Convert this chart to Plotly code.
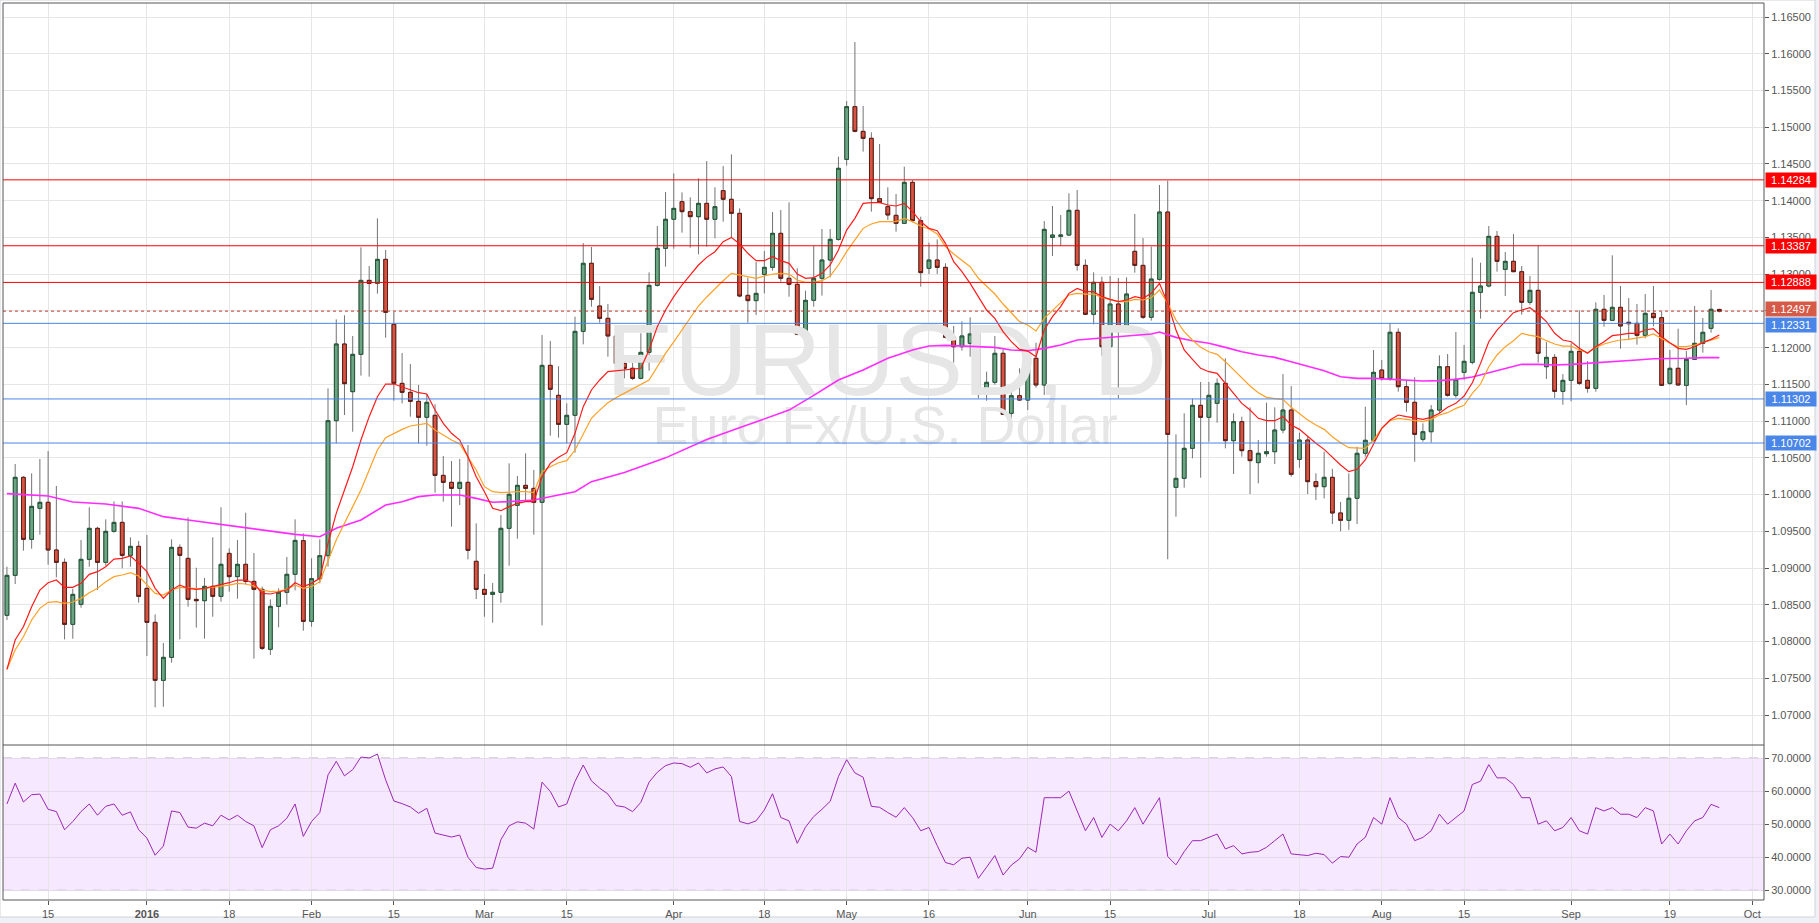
import pandas as pd
import plotly.graph_objects as go

# ---------------- data ----------------
dates = [d.strftime("%Y-%m-%d") for d in pd.bdate_range("2015-12-08", "2016-09-27")
         if d.strftime("%m-%d") not in ("12-25", "01-01")]

opens = [
1.08357, 1.08901, 1.10235, 1.09391, 1.09813, 1.09895, 1.09246, 1.09078, 1.08234, 1.08506,
1.09119, 1.09541, 1.09078, 1.09500, 1.09622, 1.09173, 1.09296, 1.08724, 1.08261, 1.07472,
1.07785, 1.09282, 1.09132, 1.08574, 1.08556, 1.08751, 1.08615, 1.09200, 1.08883, 1.09051,
1.08819, 1.08710, 1.07894, 1.08479, 1.08670, 1.08915, 1.09373, 1.08275, 1.08856, 1.09169,
1.11006, 1.12050, 1.11401, 1.11909, 1.12916, 1.12875, 1.13202, 1.12317, 1.11514, 1.11392,
1.11269, 1.11052, 1.11079, 1.10262, 1.10167, 1.10085, 1.10167, 1.09092, 1.08710, 1.08642,
1.08670, 1.09541, 1.09854, 1.10126, 1.10085, 1.09895, 1.11759, 1.11351, 1.10956, 1.11079,
1.12222, 1.13148, 1.12567, 1.12399, 1.12159, 1.11787, 1.11719, 1.11582, 1.11936, 1.12848,
1.13352, 1.13747, 1.13987, 1.13851, 1.13783, 1.13964, 1.13747, 1.14137, 1.14019, 1.13828,
1.12712, 1.12640, 1.12998, 1.13093, 1.13556, 1.12944, 1.12862, 1.12159, 1.12644, 1.12944,
1.13193, 1.13474, 1.14563, 1.15280, 1.14944, 1.14849, 1.14028, 1.13919, 1.13801, 1.13692,
1.14250, 1.13728, 1.13080, 1.13193, 1.13093, 1.12140, 1.12013, 1.12059, 1.12186, 1.11378,
1.11528, 1.11923, 1.11106, 1.11346, 1.11287, 1.11855, 1.11492, 1.13501, 1.13515, 1.13533,
1.13869, 1.13120, 1.12454, 1.12889, 1.12013, 1.12594, 1.12218, 1.13311, 1.13120, 1.12413,
1.12930, 1.13846, 1.10099, 1.10221, 1.10630, 1.11215, 1.11052, 1.11242, 1.11514, 1.10734,
1.10993, 1.10598, 1.10435, 1.10557, 1.10584, 1.10879, 1.11151, 1.10480, 1.10743, 1.10176,
1.10108, 1.10235, 1.09750, 1.09650, 1.09950, 1.10562, 1.10739, 1.11696, 1.11578, 1.12209,
1.11469, 1.11256, 1.10752, 1.10856, 1.11151, 1.11741, 1.11351, 1.11664, 1.11800, 1.12753,
1.12839, 1.13515, 1.13066, 1.13175, 1.13034, 1.12617, 1.12780, 1.11741, 1.11868, 1.11405,
1.11555, 1.11950, 1.11555, 1.11446, 1.12522, 1.12372, 1.12549, 1.12345, 1.12331, 1.12168,
1.12467, 1.12408, 1.11514, 1.11719, 1.11487, 1.11841, 1.12059, 1.12263, 1.12520]

highs = [
1.09019, 1.10416, 1.10250, 1.10289, 1.10484, 1.10593, 1.10117, 1.09132, 1.08720, 1.09382,
1.09827, 1.09563, 1.09663, 1.09908, 1.09908, 1.09418, 1.09368, 1.09450, 1.08370, 1.07980,
1.09391, 1.09323, 1.09690, 1.09005, 1.08865, 1.09418, 1.09827, 1.09269, 1.09382, 1.09754,
1.09205, 1.08747, 1.08574, 1.08724, 1.09151, 1.09663, 1.09473, 1.09132, 1.09391, 1.11446,
1.12385, 1.12440, 1.12159, 1.13365, 1.13111, 1.13760, 1.13329, 1.12490, 1.11927, 1.11777,
1.11492, 1.11369, 1.11229, 1.10525, 1.10457, 1.10484, 1.10675, 1.09609, 1.08919, 1.08797,
1.09722, 1.10425, 1.10253, 1.10562, 1.10335, 1.12172, 1.12091, 1.11746, 1.11242, 1.12422,
1.13424, 1.13370, 1.12839, 1.12594, 1.12227, 1.11868, 1.11796, 1.12195, 1.13025, 1.13656,
1.14119, 1.14373, 1.14114, 1.14046, 1.14305, 1.14540, 1.14182, 1.14472, 1.14631, 1.13896,
1.12953, 1.13166, 1.13316, 1.13846, 1.13874, 1.13978, 1.13080, 1.12776, 1.13384, 1.13615,
1.13615, 1.14600, 1.15357, 1.16160, 1.15289, 1.14931, 1.14772, 1.14182, 1.14091, 1.14463,
1.14282, 1.13783, 1.13429, 1.13474, 1.13148, 1.12295, 1.12358, 1.12413, 1.12263, 1.11673,
1.12159, 1.11977, 1.11437, 1.11719, 1.11982, 1.12068, 1.13724, 1.13928, 1.13806, 1.14100,
1.14146, 1.13202, 1.13025, 1.12966, 1.12975, 1.12948, 1.12957, 1.13819, 1.13492, 1.13375,
1.14214, 1.14273, 1.10820, 1.11106, 1.11306, 1.11533, 1.11533, 1.11582, 1.11855, 1.11106,
1.11061, 1.11188, 1.10743, 1.11251, 1.11188, 1.11641, 1.11478, 1.10843, 1.10788, 1.10289,
1.10584, 1.10350, 1.09900, 1.10289, 1.10652, 1.11197, 1.11968, 1.11832, 1.12331, 1.12263,
1.11560, 1.11596, 1.10970, 1.11219, 1.11895, 1.11913, 1.12213, 1.12036, 1.13225, 1.13157,
1.13656, 1.13588, 1.13302, 1.13547, 1.13111, 1.12975, 1.13393, 1.12077, 1.11913, 1.11641,
1.12059, 1.12508, 1.11818, 1.12617, 1.12717, 1.13257, 1.12839, 1.12676, 1.12594, 1.12730,
1.12839, 1.12490, 1.11968, 1.12258, 1.11954, 1.12567, 1.12404, 1.12785, 1.12530]

lows = [
1.08293, 1.08783, 1.09237, 1.09264, 1.09455, 1.09046, 1.08874, 1.08030, 1.08039, 1.08461,
1.09019, 1.08701, 1.09033, 1.09482, 1.08996, 1.09019, 1.08529, 1.07803, 1.07104, 1.07113,
1.07712, 1.08030, 1.08475, 1.08189, 1.08039, 1.08338, 1.08543, 1.08679, 1.08583, 1.08774,
1.07767, 1.07885, 1.07817, 1.08193, 1.08502, 1.08697, 1.08148, 1.08202, 1.08792, 1.09019,
1.10698, 1.11083, 1.10856, 1.11619, 1.11605, 1.12735, 1.12136, 1.11278, 1.11242, 1.11061,
1.10698, 1.10666, 1.10026, 1.09904, 1.09563, 1.09858, 1.09119, 1.08579, 1.08338, 1.08257,
1.08529, 1.09033, 1.09400, 1.09926, 1.09455, 1.08220, 1.10802, 1.10775, 1.10698, 1.10571,
1.12045, 1.12558, 1.12340, 1.11877, 1.11596, 1.11582, 1.11560, 1.11569, 1.11687, 1.12830,
1.13102, 1.13347, 1.13565, 1.13361, 1.13270, 1.13375, 1.13488, 1.13715, 1.13488, 1.12685,
1.12340, 1.12444, 1.12739, 1.13048, 1.12898, 1.12694, 1.12168, 1.12159, 1.12558, 1.12708,
1.12957, 1.13456, 1.14477, 1.14930, 1.14668, 1.13851, 1.13973, 1.13738, 1.13579, 1.13683,
1.13706, 1.12830, 1.13002, 1.13002, 1.12127, 1.11796, 1.11959, 1.11877, 1.11310, 1.11278,
1.11496, 1.11083, 1.10979, 1.11278, 1.11151, 1.11455, 1.11356, 1.13248, 1.13384, 1.13524,
1.13048, 1.12454, 1.12317, 1.11891, 1.12013, 1.11310, 1.12218, 1.13021, 1.12390, 1.12368,
1.12912, 1.09120, 1.09700, 1.10094, 1.10494, 1.10230, 1.10720, 1.10979, 1.10630, 1.10280,
1.10516, 1.10008, 1.10153, 1.10516, 1.10416, 1.10834, 1.10244, 1.10366, 1.10008, 1.09926,
1.09949, 1.09600, 1.09500, 1.09520, 1.09600, 1.10516, 1.10720, 1.11551, 1.11551, 1.11401,
1.11129, 1.10448, 1.10720, 1.10707, 1.11106, 1.11333, 1.11319, 1.11560, 1.11773, 1.12395,
1.12821, 1.13034, 1.12703, 1.13034, 1.12449, 1.12585, 1.11796, 1.11573, 1.11315, 1.11224,
1.11269, 1.11492, 1.11387, 1.11401, 1.12286, 1.12367, 1.11986, 1.12104, 1.12041, 1.12127,
1.12290, 1.11487, 1.11492, 1.11483, 1.11219, 1.11841, 1.11932, 1.12204, 1.12480]

closes = [
1.08901, 1.10235, 1.09391, 1.09840, 1.09895, 1.09246, 1.09078, 1.08234, 1.08642, 1.09119,
1.09541, 1.09078, 1.09500, 1.09622, 1.09173, 1.09296, 1.08615, 1.08261, 1.07472, 1.07785,
1.09282, 1.09173, 1.08574, 1.08556, 1.08751, 1.08615, 1.09051, 1.08883, 1.09051, 1.08819,
1.08710, 1.07907, 1.08479, 1.08670, 1.08915, 1.09377, 1.08275, 1.08856, 1.09169, 1.11006,
1.12050, 1.11510, 1.11909, 1.12916, 1.12875, 1.13202, 1.12481, 1.11514, 1.11392, 1.11269,
1.11052, 1.11256, 1.10262, 1.10167, 1.10085, 1.10167, 1.09241, 1.08710, 1.08642, 1.08670,
1.09541, 1.10004, 1.10126, 1.10085, 1.09895, 1.11759, 1.11433, 1.10956, 1.11079, 1.12222,
1.13148, 1.12658, 1.12399, 1.12159, 1.11787, 1.11719, 1.11582, 1.11936, 1.12848, 1.13352,
1.13747, 1.13896, 1.13851, 1.13783, 1.13964, 1.13747, 1.13919, 1.14019, 1.13828, 1.12703,
1.12640, 1.12739, 1.13093, 1.13556, 1.12944, 1.12862, 1.12181, 1.12644, 1.12944, 1.13193,
1.13474, 1.14441, 1.15280, 1.14944, 1.14849, 1.14028, 1.13978, 1.13806, 1.13692, 1.14250,
1.13728, 1.13021, 1.13193, 1.13093, 1.12140, 1.12013, 1.12159, 1.12186, 1.11378, 1.11528,
1.11923, 1.11092, 1.11346, 1.11287, 1.11855, 1.11492, 1.13610, 1.13533, 1.13533, 1.13869,
1.13120, 1.12454, 1.12889, 1.12013, 1.12594, 1.12218, 1.12730, 1.13120, 1.12413, 1.12934,
1.13846, 1.10820, 1.10221, 1.10630, 1.11215, 1.11052, 1.11351, 1.11514, 1.10734, 1.10993,
1.10598, 1.10462, 1.10562, 1.10584, 1.10879, 1.11151, 1.10276, 1.10743, 1.10176, 1.10108,
1.10235, 1.09750, 1.09650, 1.09950, 1.10562, 1.10739, 1.11664, 1.11578, 1.12209, 1.11469,
1.11256, 1.10820, 1.10856, 1.11151, 1.11741, 1.11351, 1.11569, 1.11814, 1.12753, 1.12839,
1.13515, 1.13175, 1.13175, 1.13034, 1.12617, 1.12780, 1.11923, 1.11868, 1.11405, 1.11555,
1.11950, 1.11514, 1.11446, 1.12522, 1.12372, 1.12549, 1.12295, 1.12326, 1.12168, 1.12467,
1.12408, 1.11487, 1.11719, 1.11492, 1.11841, 1.12059, 1.12209, 1.12522, 1.12497]

ema_fast = [
1.07622, 1.08021, 1.08202, 1.08475, 1.08701, 1.08801, 1.08837, 1.08738, 1.08738, 1.08792,
1.08915, 1.08951, 1.09019, 1.09123, 1.09132, 1.09164, 1.09064, 1.08951, 1.08724, 1.08588,
1.08701, 1.08769, 1.08724, 1.08710, 1.08724, 1.08747, 1.08769, 1.08801, 1.08837, 1.08837,
1.08792, 1.08656, 1.08647, 1.08670, 1.08701, 1.08801, 1.08747, 1.08792, 1.08860, 1.09337,
1.09745, 1.10062, 1.10380, 1.10743, 1.11061, 1.11333, 1.11505, 1.11505, 1.11469, 1.11424,
1.11387, 1.11369, 1.11151, 1.10970, 1.10834, 1.10743, 1.10516, 1.10244, 1.10040, 1.09813,
1.09781, 1.09836, 1.09881, 1.09904, 1.09904, 1.10244, 1.10425, 1.10507, 1.10571, 1.10834,
1.11197, 1.11424, 1.11560, 1.11673, 1.11687, 1.11696, 1.11705, 1.11719, 1.11968, 1.12286,
1.12512, 1.12694, 1.12853, 1.12989, 1.13125, 1.13229, 1.13306, 1.13442, 1.13501, 1.13411,
1.13284, 1.13184, 1.13184, 1.13238, 1.13184, 1.13148, 1.13002, 1.12944, 1.12953, 1.13011,
1.13125, 1.13329, 1.13601, 1.13760, 1.13964, 1.13973, 1.13973, 1.13942, 1.13928, 1.13964,
1.13851, 1.13715, 1.13624, 1.13592, 1.13420, 1.13170, 1.13034, 1.12875, 1.12694, 1.12512,
1.12399, 1.12218, 1.12081, 1.11977, 1.11954, 1.11877, 1.12240, 1.12422, 1.12558, 1.12739,
1.12807, 1.12762, 1.12762, 1.12694, 1.12658, 1.12626, 1.12649, 1.12694, 1.12671, 1.12739,
1.12875, 1.12603, 1.12240, 1.11968, 1.11841, 1.11719, 1.11673, 1.11650, 1.11514, 1.11378,
1.11242, 1.11151, 1.11038, 1.11006, 1.11006, 1.11061, 1.10947, 1.10888, 1.10788, 1.10698,
1.10616, 1.10507, 1.10403, 1.10312, 1.10344, 1.10471, 1.10698, 1.10902, 1.11015, 1.11083,
1.11061, 1.11038, 1.11024, 1.11052, 1.11106, 1.11188, 1.11242, 1.11342, 1.11523, 1.11786,
1.12081, 1.12240, 1.12354, 1.12476, 1.12512, 1.12544, 1.12458, 1.12354, 1.12195, 1.12104,
1.12081, 1.11991, 1.11923, 1.12013, 1.12081, 1.12163, 1.12177, 1.12195, 1.12195, 1.12240,
1.12258, 1.12150, 1.12068, 1.11991, 1.11977, 1.12013, 1.12068, 1.12113, 1.12172]

ema_slow = [
1.07622, 1.07885, 1.08066, 1.08293, 1.08452, 1.08534, 1.08543, 1.08520, 1.08538, 1.08588,
1.08665, 1.08724, 1.08815, 1.08883, 1.08906, 1.08937, 1.08892, 1.08769, 1.08656, 1.08633,
1.08701, 1.08738, 1.08724, 1.08720, 1.08724, 1.08738, 1.08747, 1.08769, 1.08792, 1.08783,
1.08756, 1.08701, 1.08679, 1.08688, 1.08710, 1.08769, 1.08724, 1.08747, 1.08815, 1.09110,
1.09382, 1.09609, 1.09836, 1.10062, 1.10335, 1.10607, 1.10775, 1.10834, 1.10888, 1.10934,
1.10947, 1.10970, 1.10879, 1.10811, 1.10743, 1.10689, 1.10516, 1.10335, 1.10108, 1.10040,
1.10026, 1.10035, 1.10040, 1.10040, 1.10026, 1.10312, 1.10380, 1.10434, 1.10462, 1.10607,
1.10834, 1.11038, 1.11150, 1.11250, 1.11320, 1.11380, 1.11440, 1.11500, 1.11560, 1.11740,
1.11923, 1.12080, 1.12240, 1.12400, 1.12567, 1.12690, 1.12807, 1.12910, 1.13011, 1.12989,
1.12966, 1.12944, 1.12975, 1.13002, 1.13011, 1.13002, 1.12921, 1.12889, 1.12889, 1.12912,
1.12975, 1.13125, 1.13306, 1.13465, 1.13624, 1.13683, 1.13715, 1.13715, 1.13715, 1.13760,
1.13715, 1.13656, 1.13615, 1.13547, 1.13375, 1.13275, 1.13193, 1.13102, 1.12944, 1.12830,
1.12730, 1.12594, 1.12476, 1.12354, 1.12308, 1.12227, 1.12399, 1.12512, 1.12612, 1.12717,
1.12739, 1.12730, 1.12730, 1.12685, 1.12658, 1.12626, 1.12626, 1.12658, 1.12649, 1.12680,
1.12785, 1.12603, 1.12376, 1.12218, 1.12104, 1.12004, 1.11945, 1.11909, 1.11809, 1.11696,
1.11582, 1.11478, 1.11387, 1.11324, 1.11306, 1.11297, 1.11188, 1.11106, 1.11015, 1.10947,
1.10888, 1.10788, 1.10707, 1.10639, 1.10630, 1.10630, 1.10743, 1.10902, 1.11006, 1.11038,
1.11024, 1.11006, 1.10993, 1.11024, 1.11083, 1.11115, 1.11174, 1.11215, 1.11378, 1.11505,
1.11741, 1.11900, 1.12013, 1.12095, 1.12195, 1.12168, 1.12150, 1.12095, 1.12050, 1.12022,
1.12022, 1.11968, 1.11932, 1.12004, 1.12050, 1.12081, 1.12104, 1.12113, 1.12127, 1.12150,
1.12186, 1.12127, 1.12059, 1.12013, 1.12013, 1.12036, 1.12068, 1.12095, 1.12136]

sma_bars = [0, 5, 8, 12, 16, 19, 22, 26, 30, 35,
            38, 40, 43, 46, 48, 50, 52, 55, 57, 59,
            61, 64, 67, 69, 71, 75, 80, 85, 90, 95,
            98, 101, 104, 107, 110, 112, 114, 116, 118, 120,
            122, 124, 126, 128, 130, 132, 134, 137, 139, 140,
            142, 144, 146, 148, 150, 152, 154, 156, 158, 160,
            162, 164, 166, 168, 170, 172, 174, 176, 178, 180,
            182, 184, 186, 188, 190, 192, 194, 196, 198, 200,
            202, 204, 206, 208]
sma_vals = [1.10013, 1.09981, 1.09899, 1.09872, 1.09813, 1.09700, 1.09654, 1.09595, 1.09541, 1.09459,
            1.09427, 1.09541, 1.09654, 1.09858, 1.09904, 1.09972, 1.09994, 1.09994, 1.09949, 1.09895,
            1.09904, 1.09926, 1.09994, 1.10040, 1.10176, 1.10300, 1.10500, 1.10750, 1.10950, 1.11150,
            1.11350, 1.11560, 1.11696, 1.11855, 1.11968, 1.12022, 1.12031, 1.12022, 1.12013, 1.12004,
            1.11968, 1.11959, 1.11990, 1.12036, 1.12104, 1.12122, 1.12140, 1.12168, 1.12186, 1.12213,
            1.12140, 1.12095, 1.12059, 1.12004, 1.11945, 1.11900, 1.11868, 1.11809, 1.11750, 1.11687,
            1.11605, 1.11582, 1.11582, 1.11573, 1.11560, 1.11546, 1.11551, 1.11569, 1.11600, 1.11655,
            1.11709, 1.11773, 1.11773, 1.11764, 1.11773, 1.11786, 1.11800, 1.11814, 1.11832, 1.11850,
            1.11850, 1.11855, 1.11864, 1.11864]

rsi = [
56.1, 62.4, 56.7, 58.9, 59.1, 54.5, 53.8, 48.3, 50.8, 53.8,
56.1, 52.7, 55.4, 56.1, 52.7, 53.7, 48.3, 45.8, 40.6, 43.4,
54.0, 53.5, 49.1, 48.8, 50.3, 49.5, 52.7, 51.3, 52.7, 50.8,
49.5, 42.9, 48.3, 49.5, 51.8, 56.1, 46.3, 50.8, 53.5, 64.9,
69.0, 64.6, 66.5, 70.3, 70.0, 71.2, 63.4, 57.0, 56.2, 55.2,
53.3, 54.8, 47.3, 46.8, 46.1, 46.7, 40.0, 36.9, 36.4, 36.7,
45.3, 49.5, 50.7, 50.3, 48.5, 62.7, 59.9, 55.2, 56.1, 62.9,
67.9, 63.1, 60.9, 59.1, 55.6, 55.2, 53.8, 56.6, 62.7, 65.7,
67.7, 68.5, 68.3, 67.2, 68.5, 65.5, 66.7, 67.3, 64.4, 50.8,
50.1, 51.0, 54.3, 59.2, 52.0, 51.0, 44.2, 49.1, 52.3, 54.5,
56.9, 64.4, 69.5, 65.5, 64.2, 55.4, 55.1, 53.5, 52.1, 55.0,
52.0, 48.0, 49.0, 43.5, 38.4, 37.7, 39.7, 40.0, 33.6, 37.0,
40.5, 34.6, 37.6, 39.5, 43.0, 41.5, 58.0, 58.0, 58.0, 60.0,
54.0, 48.0, 52.0, 46.0, 50.0, 48.0, 51.0, 55.0, 50.0, 54.0,
58.0, 40.2, 37.7, 41.7, 45.0, 45.0, 46.0, 47.0, 42.5, 43.5,
41.0, 41.5, 41.7, 43.0, 45.0, 47.0, 41.0, 40.7, 40.5, 41.2,
40.8, 38.2, 40.2, 40.0, 44.0, 46.0, 52.0, 50.0, 58.0, 52.0,
50.0, 45.0, 46.0, 48.0, 53.0, 50.0, 52.0, 54.0, 62.0, 63.0,
68.0, 64.0, 64.0, 62.0, 58.0, 58.0, 50.0, 51.0, 48.0, 49.0,
52.0, 48.0, 47.0, 55.0, 54.0, 55.0, 53.0, 53.0, 52.0, 55.0,
54.0, 44.0, 47.0, 44.0, 48.0, 51.0, 52.0, 56.0, 55.0]

resistance_levels = [1.14284, 1.13387, 1.12888]
support_levels = [1.12331, 1.11302, 1.10702]
last_price = 1.12497

price_ticks = [round(1.07 + 0.005 * k, 3) for k in range(20)]
rsi_ticks = [30, 40, 50, 60, 70]
date_tickvals = ["2015-12-15", "2016-01-04", "2016-01-18", "2016-02-01", "2016-02-15",
                 "2016-03-01", "2016-03-15", "2016-04-01", "2016-04-18", "2016-05-02",
                 "2016-05-16", "2016-06-01", "2016-06-15", "2016-07-01", "2016-07-18",
                 "2016-08-01", "2016-08-15", "2016-09-01", "2016-09-19", "2016-10-03"]
date_ticktext = ["15", "<b>2016</b>", "18", "Feb", "15", "Mar", "15", "Apr", "18", "May",
                 "16", "Jun", "15", "Jul", "18", "Aug", "15", "Sep", "19", "Oct"]

assert len(dates) == 209
for arr in (opens, highs, lows, closes, ema_fast, ema_slow, rsi):
    assert len(arr) == 209, len(arr)
assert len(sma_bars) == len(sma_vals)

# ---------------- geometry ----------------
W, H = 1819, 923
FONT = "Liberation Sans"
px_x = lambda p: p / W
px_y = lambda p: 1 - p / H
X_L, X_R = px_x(3), px_x(1764)
Y_TOP, Y_MID, Y_BOT = px_y(3), px_y(745), px_y(900)

UP_FILL, UP_LINE = "#6ba583", "#225437"
DN_FILL, DN_LINE = "#d75442", "#5b1a13"
WICK = "#737375"
GRID = "#e6e6e6"
AX = "#555555"

fig = go.Figure()

# watermark (drawn first so it sits under the candles)
fig.add_trace(go.Scatter(x=[dates[106] + " 20:00"], y=[1.1170], mode="text",
                         text=["EURUSD, D"], textposition="middle center",
                         textfont=dict(family=FONT, size=102, color="#e6e6e6"),
                         hoverinfo="skip", showlegend=False))
fig.add_trace(go.Scatter(x=[dates[106] + " 16:00"], y=[1.1087], mode="text",
                         text=["Euro Fx/U.S. Dollar"], textposition="middle center",
                         textfont=dict(family=FONT, size=54, color="#e6e6e6"),
                         hoverinfo="skip", showlegend=False))

# wicks
fig.add_trace(go.Candlestick(x=dates, open=opens, high=highs, low=lows, close=closes,
                             increasing=dict(line=dict(color=WICK, width=1), fillcolor=UP_FILL),
                             decreasing=dict(line=dict(color=WICK, width=1), fillcolor=DN_FILL),
                             whiskerwidth=0, hoverinfo="skip", showlegend=False))
# bodies
body_hi = [max(o, c) for o, c in zip(opens, closes)]
body_lo = [min(o, c) for o, c in zip(opens, closes)]
fig.add_trace(go.Candlestick(x=dates, open=opens, high=body_hi, low=body_lo, close=closes,
                             increasing=dict(line=dict(color=UP_LINE, width=1), fillcolor=UP_FILL),
                             decreasing=dict(line=dict(color=DN_LINE, width=1), fillcolor=DN_FILL),
                             whiskerwidth=0, hoverinfo="skip", showlegend=False))

# moving averages
fig.add_trace(go.Scatter(x=[dates[i] for i in sma_bars], y=sma_vals, mode="lines",
                         line=dict(color="#ff2bff", width=1.6), hoverinfo="skip", showlegend=False))
fig.add_trace(go.Scatter(x=dates, y=ema_slow, mode="lines",
                         line=dict(color="#ffa024", width=1.2), hoverinfo="skip", showlegend=False))
fig.add_trace(go.Scatter(x=dates, y=ema_fast, mode="lines",
                         line=dict(color="#ff1a1a", width=1.2), hoverinfo="skip", showlegend=False))

# RSI
fig.add_trace(go.Scatter(x=dates, y=rsi, mode="lines", xaxis="x2", yaxis="y2",
                         line=dict(color="#9c27b5", width=1), hoverinfo="skip", showlegend=False))

shapes = []
# widget background and frame
shapes.append(dict(type="rect", xref="paper", yref="paper", x0=0, x1=px_x(1815), y0=px_y(917), y1=1,
                   fillcolor="white", line=dict(color="#cfd3da", width=1), layer="below"))
# RSI band + dashed bounds
shapes.append(dict(type="rect", xref="paper", yref="y2", x0=X_L, x1=X_R, y0=30, y1=70,
                   fillcolor="#f5e8ff", line=dict(width=0), layer="below"))
for v in (30, 70):
    shapes.append(dict(type="line", xref="paper", yref="y2", x0=X_L, x1=X_R, y0=v, y1=v,
                       line=dict(color="#b8a6c4", width=1, dash="dash"), layer="below"))
# horizontal levels
for v in resistance_levels:
    shapes.append(dict(type="line", xref="paper", yref="y", x0=X_L, x1=X_R, y0=v, y1=v,
                       line=dict(color="#ff0000", width=1)))
for v in support_levels:
    shapes.append(dict(type="line", xref="paper", yref="y", x0=X_L, x1=X_R, y0=v, y1=v,
                       line=dict(color="#4a86e8", width=1)))
shapes.append(dict(type="line", xref="paper", yref="y", x0=X_L, x1=X_R, y0=last_price, y1=last_price,
                   line=dict(color="#c0392b", width=1, dash="dot")))
# pane frame
shapes.append(dict(type="rect", xref="paper", yref="paper", x0=X_L, x1=X_R, y0=Y_BOT, y1=Y_TOP,
                   line=dict(color=AX, width=1)))
shapes.append(dict(type="line", xref="paper", yref="paper", x0=X_L, x1=X_R, y0=Y_MID, y1=Y_MID,
                   line=dict(color=AX, width=1)))

annotations = []
def price_box(v, color, yshift=0):
    annotations.append(dict(xref="paper", yref="y", x=X_R + 0.5 / W, y=v, xanchor="left", yanchor="middle",
                            text=f"{v:.5f}", showarrow=False, bgcolor=color, borderpad=0,
                            width=50, height=14, yshift=yshift,
                            font=dict(family=FONT, size=11, color="white")))
for v in resistance_levels:
    price_box(v, "#ff0000")
price_box(support_levels[0], "#4a86e8", -2)
price_box(support_levels[1], "#4a86e8")
price_box(support_levels[2], "#4a86e8")
price_box(last_price, "#d65a48", 2)

x_range = ["2015-12-07 12:29", "2016-10-04 10:19"]
rb = [dict(bounds=["sat", "mon"]), dict(values=["2015-12-25", "2016-01-01"])]

fig.update_layout(
    width=W, height=H, autosize=False,
    margin=dict(l=0, r=0, t=0, b=0),
    paper_bgcolor="#eef1f6", plot_bgcolor="white",
    font=dict(family=FONT, size=11, color=AX),
    showlegend=False, hovermode=False,
    boxgap=0.35,
    xaxis=dict(domain=[X_L, X_R], anchor="y", type="date", range=x_range, rangebreaks=rb,
               tickvals=date_tickvals, ticktext=date_ticktext, showticklabels=False,
               showgrid=True, gridcolor=GRID, gridwidth=1, zeroline=False, showline=False,
               rangeslider=dict(visible=False)),
    xaxis2=dict(domain=[X_L, X_R], anchor="y2", type="date", range=x_range, rangebreaks=rb,
                matches="x", tickvals=date_tickvals, ticktext=date_ticktext,
                showgrid=True, gridcolor=GRID, gridwidth=1, zeroline=False, showline=False,
                ticks="outside", ticklen=4, tickcolor=AX,
                tickfont=dict(family=FONT, size=11, color=AX),
                rangeslider=dict(visible=False)),
    yaxis=dict(domain=[Y_MID, Y_TOP], anchor="x", side="right", range=[1.06592, 1.16691],
               tickvals=price_ticks, ticktext=[f"{v:.5f}" for v in price_ticks],
               showgrid=True, gridcolor=GRID, gridwidth=1, zeroline=False, showline=False,
               ticks="outside", ticklen=4, tickcolor=AX,
               tickfont=dict(family=FONT, size=11, color=AX)),
    yaxis2=dict(domain=[Y_BOT, Y_MID], anchor="x2", side="right", range=[27.06, 73.94],
                tickvals=rsi_ticks, ticktext=[f"{v:.4f}" for v in rsi_ticks],
                showgrid=True, gridcolor="#e3d9ea", gridwidth=1, zeroline=False, showline=False,
                ticks="outside", ticklen=4, tickcolor=AX,
                tickfont=dict(family=FONT, size=11, color=AX)),
    shapes=shapes,
    annotations=annotations,
)

fig.write_html("out.html", config={"displayModeBar": False},
               post_script="document.body.style.margin='0';document.body.style.overflow='hidden';")
